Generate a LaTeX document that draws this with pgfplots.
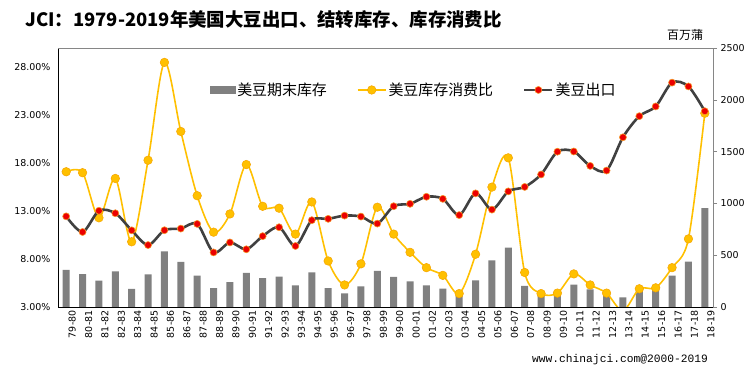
\documentclass[border=0pt]{standalone}
\usepackage{fontspec}
\setmainfont{DejaVu Sans}
\newfontfamily\cjk{Noto Sans CJK SC}
\newfontfamily\monof{Liberation Mono}
\usepackage{pgfplots}
\usepackage{pgfplotstable}
\pgfplotsset{compat=1.18}
\definecolor{bargray}{RGB}{128,128,128}
\definecolor{gold}{RGB}{255,192,0}
\definecolor{goldedge}{RGB}{245,165,0}
\definecolor{darkline}{RGB}{64,64,64}
\definecolor{expred}{RGB}{235,0,0}
\definecolor{exporange}{RGB}{245,150,40}
\definecolor{framegray}{RGB}{134,134,134}

\pgfplotstableread{
idx stocks ratio exports
0 359 17.1 875
1 318 17.0 724
2 254 12.3 929
3 345 16.4 905
4 176 9.8 740
5 316 18.3 598
6 536 28.5 741
7 436 21.3 757
8 302 14.6 802
9 182 10.8 527
10 239 12.7 623
11 329 17.85 557
12 278 13.5 684
13 292 13.3 770
14 209 10.6 589
15 335 13.95 838
16 183 7.8 851
17 132 5.3 882
18 200 7.5 873
19 348 13.4 805
20 290 10.6 973
21 248 8.7 996
22 208 7.1 1064
23 178 6.3 1044
24 112 4.4 887
25 256 8.5 1097
26 449 15.5 940
27 574 18.55 1116
28 205 6.6 1159
29 138 4.4 1279
30 151 4.45 1499
31 215 6.45 1501
32 169 5.3 1362
33 141 4.45 1317
34 92 2.6 1638
35 191 4.9 1842
36 197 5.0 1936
37 302 7.1 2166
38 438 10.1 2129
39 955 23.2 1890
}\data

\pgfplotsset{
  base/.style={
    scale only axis, width=655bp, height=259bp,
    at={(58bp,64bp)}, anchor=south west,
    xmin=-0.5, xmax=39.5,
    tick label style={font=\fontsize{9.5}{11}\selectfont},
  }
}

\begin{document}
\begin{tikzpicture}
\useasboundingbox (0,0) rectangle (751bp,371bp);
\fill[white] (0,0) rectangle (751bp,371bp);

% bars (right scale)
\begin{axis}[base, hide axis, ymin=0, ymax=2500]
\addplot[ybar, bar width=7bp, fill=bargray, draw=none] table[x=idx,y=stocks]{\data};
\end{axis}

% ratio (left scale)
\begin{axis}[base, ymin=3, ymax=30,
  axis x line*=bottom, axis y line*=left,
  axis line style={-, black, line width=0.8pt},
  xtick={0,...,39},
  xticklabels={79-80,80-81,81-82,82-83,83-84,84-85,85-86,86-87,87-88,88-89,89-90,90-91,91-92,92-93,93-94,94-95,95-96,96-97,97-98,98-99,99-00,00-01,01-02,02-03,03-04,04-05,05-06,06-07,07-08,08-09,09-10,10-11,11-12,12-13,13-14,14-15,15-16,16-17,17-18,18-19},
  xticklabel style={rotate=90, anchor=east, yshift=-6bp},
  major tick length=0pt,
  ytick={3,8,13,18,23,28},
  yticklabels={3.00\%,8.00\%,13.00\%,18.00\%,23.00\%,28.00\%},
  yticklabel style={xshift=-4bp},
  clip marker paths=true]
\addplot[smooth, color=gold, line width=1.6pt, mark=*, mark size=4.3bp,
  mark options={fill=gold, draw=goldedge, line width=0.5pt}] table[x=idx,y=ratio]{\data};
\end{axis}

% exports (right scale)
\begin{axis}[base, ymin=0, ymax=2500,
  axis x line*=top, axis y line*=right,
  axis line style={-, framegray, line width=0.6pt},
  xtick=\empty,
  ytick={0,500,1000,1500,2000,2500},
  yticklabels={0,500,1000,1500,2000,2500},
  ytick align=outside, major tick length=4bp,
  every tick/.style={framegray, line width=0.6pt},
  legend columns=3,
  legend style={draw=none, fill=none, at={(0.543,0.838)}, anchor=center,
    font=\cjk\fontsize{15}{16}\selectfont,
    /tikz/every even column/.append style={column sep=28bp}},
  ]
\addlegendimage{legend image code/.code={\fill[bargray] (0bp,-3.5bp) rectangle (25bp,3.5bp);}}
\addlegendimage{color=gold, line width=1.6pt, mark=*, mark size=4.3bp,
  mark options={fill=gold, draw=goldedge, line width=0.5pt},
  legend image code/.code={\draw[mark repeat=2,mark phase=2] plot coordinates {(0bp,0bp) (14bp,0bp) (28bp,0bp)};}}
\addplot[smooth, color=darkline, line width=2.6pt, mark=*, mark size=3.5bp,
  mark options={fill=expred, draw=exporange, line width=0.6pt},
  legend image code/.code={\draw[mark repeat=2,mark phase=2] plot coordinates {(0bp,0bp) (14bp,0bp) (28bp,0bp)};}] table[x=idx,y=exports]{\data};
\legend{美豆期末库存,美豆库存消费比,美豆出口}
\end{axis}

\node[anchor=base west, font=\cjk\bfseries\fontsize{18.5}{20}\selectfont, inner sep=0pt] at (25bp,344bp) {JCI：1979-2019年美国大豆出口、结转库存、库存消费比};
\node[anchor=base west, font=\cjk\fontsize{12}{13}\selectfont, inner sep=0pt] at (667bp,331bp) {百万蒲};
\node[anchor=base west, font=\monof\fontsize{11.3}{12}\selectfont, inner sep=0pt] at (532bp,9bp) {www.chinajci.com@2000-2019};
\end{tikzpicture}
\end{document}
